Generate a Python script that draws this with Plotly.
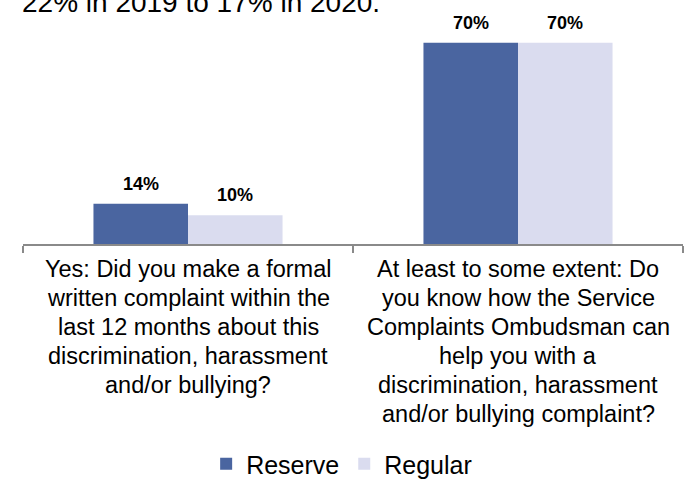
import plotly.graph_objects as go

# Survey questions, each wrapped onto the lines shown under the axis
question_lines = [
    ["Yes: Did you make a formal", "written complaint within the",
     "last 12 months about this", "discrimination, harassment",
     "and/or bullying?"],
    ["At least to some extent: Do", "you know how the Service",
     "Complaints Ombudsman can", "help you with a",
     "discrimination, harassment", "and/or bullying complaint?"],
]
categories = [" ".join(lines) for lines in question_lines]

series_names = ["Reserve", "Regular"]
reserve = [14, 70]
regular = [10, 70]
series_values = [reserve, regular]
series_colors = ["#4a65a0", "#dadcef"]

lead_text = "22% in 2019 to 17% in 2020."

W, H = 693, 481
M_L, M_R, M_T, M_B = 23, 10, 14, 237
BARGAP = 0.427
FONT = "Liberation Sans, Arial, sans-serif"

fig = go.Figure()
for name, vals, col in zip(series_names, series_values, series_colors):
    fig.add_trace(go.Bar(
        x=categories, y=vals, name=name,
        marker=dict(color=col, line=dict(width=0)),
        hoverinfo="skip",
    ))

annotations = []

# Bold value labels above each bar
bar_w = (1 - BARGAP) / len(series_names)
for s, vals in enumerate(series_values):
    offset = -(1 - BARGAP) / 2 + bar_w * (s + 0.5)
    for i, v in enumerate(vals):
        annotations.append(dict(
            x=i + offset, y=v, xref="x", yref="y",
            text=f"<b>{v}%</b>", showarrow=False,
            font=dict(family=FONT, size=18, color="#000000"),
            xanchor="center", yanchor="middle", yshift=20,
        ))

# Category labels, one annotation per wrapped line
baseline0 = 277   # first baseline, px from top
line_step = 29
cat_font = 23.5
plot_bottom = H - M_B
for i, lines in enumerate(question_lines):
    for k, line in enumerate(lines):
        base = baseline0 + k * line_step
        center = base - 0.35 * cat_font
        annotations.append(dict(
            x=i, y=0, xref="x", yref="paper",
            text=line, showarrow=False,
            font=dict(family=FONT, size=cat_font, color="#000000"),
            xanchor="center", yanchor="middle",
            yshift=plot_bottom - center,
        ))

# Trailing line of the paragraph above the chart
annotations.append(dict(
    x=0, y=1, xref="paper", yref="paper",
    text=lead_text, showarrow=False,
    font=dict(family=FONT, size=28, color="#000000"),
    xanchor="left", yanchor="middle", xshift=-3, yshift=12,
))

fig.update_layout(
    width=W, height=H,
    margin=dict(l=M_L, r=M_R, t=M_T, b=M_B, pad=0),
    paper_bgcolor="white", plot_bgcolor="white",
    barmode="group", bargap=BARGAP, bargroupgap=0,
    showlegend=True,
    legend=dict(
        orientation="h", x=0.493, y=1 - 464 / H,
        xref="container", yref="container",
        xanchor="center", yanchor="middle",
        font=dict(family=FONT, size=25, color="#000000"),
        itemsizing="constant", itemclick=False,
        tracegroupgap=0, itemwidth=30,
    ),
    font=dict(family=FONT),
    annotations=annotations,
)
fig.update_xaxes(
    type="category", range=[-0.5, 1.5],
    showline=True, linecolor="#8a8a8a", linewidth=1.5,
    ticks="outside", tickson="boundaries", ticklen=7,
    tickcolor="#8a8a8a", tickwidth=1.5,
    showticklabels=False, showgrid=False, zeroline=False,
)
fig.update_yaxes(
    range=[0, 80], visible=False, showgrid=False, zeroline=False,
)

fig.write_html("out.html")
